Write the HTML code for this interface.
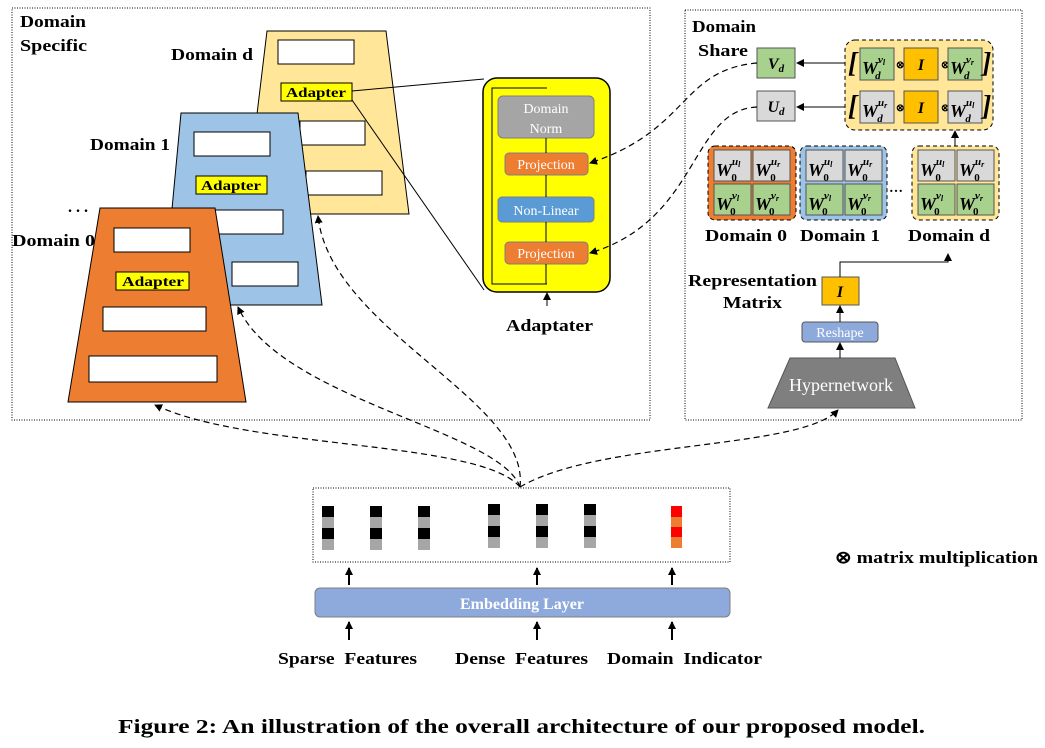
<!DOCTYPE html>
<html><head><meta charset="utf-8"><style>
body{margin:0;background:#fff}
svg text{font-family:"Liberation Serif",serif;font-weight:bold}
</style></head><body>
<svg width="1045" height="743" viewBox="0 0 1045 743" xmlns="http://www.w3.org/2000/svg">
<defs>
<marker id="ah" markerWidth="8" markerHeight="8" refX="7" refY="4" orient="auto" markerUnits="userSpaceOnUse"><path d="M0,0 L8,4 L0,8 Z" fill="#000"/></marker>
</defs>
<rect x="12" y="8" width="638" height="412" fill="none" stroke="#000" stroke-dasharray="1,1.5"/>
<rect x="685" y="10" width="337" height="410" fill="none" stroke="#000" stroke-dasharray="1,1.5"/>
<text x="20" y="27" font-size="17" textLength="66" lengthAdjust="spacingAndGlyphs">Domain</text>
<text x="20" y="51" font-size="17" textLength="67" lengthAdjust="spacingAndGlyphs">Specific</text>
<text x="171" y="60" font-size="17" textLength="82" lengthAdjust="spacingAndGlyphs">Domain d</text>
<text x="90" y="150" font-size="17" textLength="80" lengthAdjust="spacingAndGlyphs">Domain 1</text>
<text x="68" y="212" font-size="16">. . .</text>
<text x="12" y="246" font-size="17" textLength="83" lengthAdjust="spacingAndGlyphs">Domain 0</text>
<!-- domain d -->
<polygon points="267,31 386,31 409,214 245,214" fill="#FFE699" stroke="#000"/>
<rect x="278" y="40" width="76" height="24" fill="#fff" stroke="#000"/>
<rect x="281" y="83" width="71" height="18" fill="#FFFF00" stroke="#000"/>
<text x="316" y="97" font-size="14" text-anchor="middle" textLength="60" lengthAdjust="spacingAndGlyphs">Adapter</text>
<rect x="300" y="121" width="65" height="24" fill="#fff" stroke="#000"/>
<rect x="306" y="171" width="76" height="24" fill="#fff" stroke="#000"/>
<!-- domain 1 -->
<polygon points="181,113 298,113 322,305 163,305" fill="#9DC3E6" stroke="#000"/>
<rect x="194" y="132" width="76" height="24" fill="#fff" stroke="#000"/>
<rect x="196" y="176" width="71" height="18" fill="#FFFF00" stroke="#000"/>
<text x="231" y="190" font-size="14" text-anchor="middle" textLength="60" lengthAdjust="spacingAndGlyphs">Adapter</text>
<rect x="210" y="210" width="73" height="24" fill="#fff" stroke="#000"/>
<rect x="232" y="262" width="66" height="24" fill="#fff" stroke="#000"/>
<!-- domain 0 -->
<polygon points="100,208 215,208 246,402 68,402" fill="#ED7D31" stroke="#000"/>
<rect x="114" y="228" width="76" height="24" fill="#fff" stroke="#000"/>
<rect x="116" y="272" width="73" height="18" fill="#FFFF00" stroke="#000"/>
<text x="153" y="286" font-size="14" text-anchor="middle" textLength="62" lengthAdjust="spacingAndGlyphs">Adapter</text>
<rect x="103" y="307" width="103" height="24" fill="#fff" stroke="#000"/>
<rect x="89" y="356" width="128" height="26" fill="#fff" stroke="#000"/>
<!-- adapter lines -->
<line x1="352" y1="91" x2="484" y2="79" stroke="#000"/>
<line x1="352" y1="100" x2="484" y2="290" stroke="#000"/>
<rect x="483" y="78" width="127" height="214" rx="14" fill="#FFFF00" stroke="#000" stroke-width="1.5"/>
<polyline points="547,284 492,284 492,88 547,88" fill="none" stroke="#000"/>
<rect x="498" y="96" width="96" height="42" rx="5" fill="#A5A5A5" stroke="#7F7F7F"/>
<text x="546" y="113" font-size="14" fill="#fff" text-anchor="middle" style="font-weight:normal">Domain</text>
<text x="546" y="133" font-size="14" fill="#fff" text-anchor="middle" style="font-weight:normal">Norm</text>
<rect x="505" y="153" width="83" height="22" rx="4" fill="#ED7D31" stroke="#7F7F7F"/>
<text x="546" y="169" font-size="14" fill="#fff" text-anchor="middle" style="font-weight:normal">Projection</text>
<rect x="498" y="197" width="96" height="25" rx="4" fill="#5B9BD5" stroke="#7F7F7F"/>
<text x="546" y="215" font-size="14" fill="#fff" text-anchor="middle" style="font-weight:normal">Non-Linear</text>
<rect x="505" y="242" width="83" height="22" rx="4" fill="#ED7D31" stroke="#7F7F7F"/>
<text x="546" y="258" font-size="14" fill="#fff" text-anchor="middle" style="font-weight:normal">Projection</text>
<line x1="546" y1="138" x2="546" y2="153" stroke="#000"/>
<line x1="546" y1="175" x2="546" y2="197" stroke="#000"/>
<line x1="546" y1="222" x2="546" y2="242" stroke="#000"/>
<line x1="546" y1="264" x2="546" y2="284" stroke="#000"/>
<line x1="547" y1="306" x2="547" y2="293" stroke="#000" marker-end="url(#ah)"/>
<text x="506" y="331" font-size="17" textLength="87" lengthAdjust="spacingAndGlyphs">Adaptater</text>
<!-- right panel -->
<text x="692" y="32" font-size="17" textLength="64" lengthAdjust="spacingAndGlyphs">Domain</text>
<text x="698" y="56" font-size="17" textLength="50" lengthAdjust="spacingAndGlyphs">Share</text>
<rect x="757" y="48" width="38" height="30" fill="#A9D18E" stroke="#555"/>
<text x="776" y="69" font-size="16" font-style="italic" text-anchor="middle">V<tspan font-size="11" dy="3">d</tspan></text>
<rect x="757" y="91" width="38" height="30" fill="#D9D9D9" stroke="#555"/>
<text x="776" y="112" font-size="16" font-style="italic" text-anchor="middle">U<tspan font-size="11" dy="3">d</tspan></text>
<rect x="845" y="40" width="148" height="90" rx="10" fill="#FFE699" stroke="#000" stroke-dasharray="4,3"/>
<line x1="845" y1="63" x2="797" y2="63" stroke="#000" marker-end="url(#ah)"/>
<line x1="845" y1="107" x2="797" y2="107" stroke="#000" marker-end="url(#ah)"/>
<g font-style="italic">
<text x="848" y="72" font-size="28">[</text>
<rect x="860" y="48" width="34" height="32" fill="#A9D18E" stroke="#555"/>
<text x="862" y="74" font-size="18">W<tspan font-size="11" dy="-11">v</tspan><tspan font-size="8" dy="2">l</tspan><tspan font-size="11" dx="-10" dy="14">d</tspan></text>
<text x="896" y="68" font-size="10" style="font-style:normal">⊗</text>
<rect x="904" y="48" width="34" height="32" fill="#FFC000" stroke="#555"/>
<text x="921" y="70" font-size="16" text-anchor="middle">I</text>
<text x="941" y="68" font-size="10" style="font-style:normal">⊗</text>
<rect x="948" y="48" width="34" height="32" fill="#A9D18E" stroke="#555"/>
<text x="950" y="74" font-size="18">W<tspan font-size="11" dy="-11">v</tspan><tspan font-size="8" dy="2">r</tspan><tspan font-size="11" dx="-10" dy="14">d</tspan></text>
<text x="982" y="72" font-size="28">]</text>
<text x="848" y="115" font-size="28">[</text>
<rect x="860" y="91" width="34" height="32" fill="#D9D9D9" stroke="#555"/>
<text x="862" y="117" font-size="18">W<tspan font-size="11" dy="-11">u</tspan><tspan font-size="8" dy="2">r</tspan><tspan font-size="11" dx="-10" dy="14">d</tspan></text>
<text x="896" y="111" font-size="10" style="font-style:normal">⊗</text>
<rect x="904" y="91" width="34" height="32" fill="#FFC000" stroke="#555"/>
<text x="921" y="113" font-size="16" text-anchor="middle">I</text>
<text x="941" y="111" font-size="10" style="font-style:normal">⊗</text>
<rect x="948" y="91" width="34" height="32" fill="#D9D9D9" stroke="#555"/>
<text x="950" y="117" font-size="18">W<tspan font-size="11" dy="-11">u</tspan><tspan font-size="8" dy="2">l</tspan><tspan font-size="11" dx="-9" dy="14">d</tspan></text>
<text x="982" y="115" font-size="28">]</text>
</g>
<line x1="955" y1="146" x2="955" y2="131" stroke="#000" marker-end="url(#ah)"/>
<rect x="708" y="146" width="88" height="74" rx="7" fill="#ED7D31" stroke="#000" stroke-dasharray="4,3"/>
<rect x="800" y="146" width="87" height="74" rx="7" fill="#9DC3E6" stroke="#000" stroke-dasharray="4,3"/>
<rect x="912" y="146" width="87" height="74" rx="7" fill="#FFE699" stroke="#000" stroke-dasharray="4,3"/>
<text x="889" y="192" font-size="14">…</text>
<g font-style="italic" font-size="18">
<rect x="714" y="150" width="37" height="31" fill="#D9D9D9" stroke="#555"/><text x="716" y="176">W<tspan font-size="11" dy="-11">u</tspan><tspan font-size="8" dy="2">l</tspan><tspan font-size="11" dx="-9" dy="14" style="font-style:normal">0</tspan></text>
<rect x="753" y="150" width="37" height="31" fill="#D9D9D9" stroke="#555"/><text x="755" y="176">W<tspan font-size="11" dy="-11">u</tspan><tspan font-size="8" dy="2">r</tspan><tspan font-size="11" dx="-10" dy="14" style="font-style:normal">0</tspan></text>
<rect x="714" y="184" width="37" height="31" fill="#A9D18E" stroke="#555"/><text x="716" y="210">W<tspan font-size="11" dy="-11">v</tspan><tspan font-size="8" dy="2">l</tspan><tspan font-size="11" dx="-9" dy="14" style="font-style:normal">0</tspan></text>
<rect x="753" y="184" width="37" height="31" fill="#A9D18E" stroke="#555"/><text x="755" y="210">W<tspan font-size="11" dy="-11">v</tspan><tspan font-size="8" dy="2">r</tspan><tspan font-size="11" dx="-10" dy="14" style="font-style:normal">0</tspan></text>
<rect x="806" y="150" width="37" height="31" fill="#D9D9D9" stroke="#555"/><text x="808" y="176">W<tspan font-size="11" dy="-11">u</tspan><tspan font-size="8" dy="2">l</tspan><tspan font-size="11" dx="-9" dy="14" style="font-style:normal">0</tspan></text>
<rect x="845" y="150" width="37" height="31" fill="#D9D9D9" stroke="#555"/><text x="847" y="176">W<tspan font-size="11" dy="-11">u</tspan><tspan font-size="8" dy="2">r</tspan><tspan font-size="11" dx="-10" dy="14" style="font-style:normal">0</tspan></text>
<rect x="806" y="184" width="37" height="31" fill="#A9D18E" stroke="#555"/><text x="808" y="210">W<tspan font-size="11" dy="-11">v</tspan><tspan font-size="8" dy="2">l</tspan><tspan font-size="11" dx="-9" dy="14" style="font-style:normal">0</tspan></text>
<rect x="845" y="184" width="37" height="31" fill="#A9D18E" stroke="#555"/><text x="847" y="210">W<tspan font-size="11" dy="-11">v</tspan><tspan font-size="8" dy="2">r</tspan><tspan font-size="11" dx="-10" dy="14" style="font-style:normal">0</tspan></text>
<rect x="918" y="150" width="37" height="31" fill="#D9D9D9" stroke="#555"/><text x="920" y="176">W<tspan font-size="11" dy="-11">u</tspan><tspan font-size="8" dy="2">l</tspan><tspan font-size="11" dx="-9" dy="14" style="font-style:normal">0</tspan></text>
<rect x="957" y="150" width="37" height="31" fill="#D9D9D9" stroke="#555"/><text x="959" y="176">W<tspan font-size="11" dy="-11">u</tspan><tspan font-size="8" dy="2">r</tspan><tspan font-size="11" dx="-10" dy="14" style="font-style:normal">0</tspan></text>
<rect x="918" y="184" width="37" height="31" fill="#A9D18E" stroke="#555"/><text x="920" y="210">W<tspan font-size="11" dy="-11">v</tspan><tspan font-size="8" dy="2">l</tspan><tspan font-size="11" dx="-9" dy="14" style="font-style:normal">0</tspan></text>
<rect x="957" y="184" width="37" height="31" fill="#A9D18E" stroke="#555"/><text x="959" y="210">W<tspan font-size="11" dy="-11">v</tspan><tspan font-size="8" dy="2">r</tspan><tspan font-size="11" dx="-10" dy="14" style="font-style:normal">0</tspan></text>
</g>
<text x="705" y="241" font-size="17" textLength="82" lengthAdjust="spacingAndGlyphs">Domain 0</text>
<text x="800" y="241" font-size="17" textLength="80" lengthAdjust="spacingAndGlyphs">Domain 1</text>
<text x="908" y="241" font-size="17" textLength="82" lengthAdjust="spacingAndGlyphs">Domain d</text>
<text x="688" y="286" font-size="17" textLength="129" lengthAdjust="spacingAndGlyphs">Representation</text>
<text x="723" y="308" font-size="17" textLength="59" lengthAdjust="spacingAndGlyphs">Matrix</text>
<rect x="822" y="277" width="37" height="28" fill="#FFC000" stroke="#555"/>
<text x="840" y="297" font-size="16" font-style="italic" text-anchor="middle">I</text>
<polyline points="840,277 840,262 948,262 948,258" fill="none" stroke="#000"/>
<line x1="948" y1="262" x2="948" y2="254" stroke="#000" marker-end="url(#ah)"/>
<rect x="802" y="322" width="76" height="20" rx="3" fill="#8EA9DB" stroke="#555"/>
<text x="840" y="337" font-size="14" fill="#fff" text-anchor="middle" style="font-weight:normal">Reshape</text>
<line x1="840" y1="322" x2="840" y2="306" stroke="#000" marker-end="url(#ah)"/>
<polygon points="790,358 895,358 915,408 768,408" fill="#7F7F7F" stroke="#555"/>
<text x="841" y="391" font-size="18" fill="#fff" text-anchor="middle" style="font-weight:normal">Hypernetwork</text>
<line x1="840" y1="358" x2="840" y2="343" stroke="#000" marker-end="url(#ah)"/>
<g fill="none" stroke="#000" stroke-dasharray="6,4" stroke-width="1.2">
<path d="M757,63 C680,70 690,130 590,163" marker-end="url(#ah)"/>
<path d="M757,107 C690,110 700,220 590,253" marker-end="url(#ah)"/>
<path d="M520,487 C480,440 250,450 155,405" marker-end="url(#ah)"/>
<path d="M520,487 C500,430 280,400 238,307" marker-end="url(#ah)"/>
<path d="M520,487 C530,400 330,330 318,216" marker-end="url(#ah)"/>
<path d="M520,487 C600,440 800,450 838,410" marker-end="url(#ah)"/>
</g>
<rect x="313" y="488" width="417" height="74" fill="none" stroke="#000" stroke-dasharray="1,1.5"/>
<g>
<rect x="322" y="506" width="12" height="11" fill="#000"/><rect x="322" y="517" width="12" height="11" fill="#A6A6A6"/><rect x="322" y="528" width="12" height="11" fill="#000"/><rect x="322" y="539" width="12" height="11" fill="#A6A6A6"/>
<rect x="370" y="506" width="12" height="11" fill="#000"/><rect x="370" y="517" width="12" height="11" fill="#A6A6A6"/><rect x="370" y="528" width="12" height="11" fill="#000"/><rect x="370" y="539" width="12" height="11" fill="#A6A6A6"/>
<rect x="418" y="506" width="12" height="11" fill="#000"/><rect x="418" y="517" width="12" height="11" fill="#A6A6A6"/><rect x="418" y="528" width="12" height="11" fill="#000"/><rect x="418" y="539" width="12" height="11" fill="#A6A6A6"/>
<rect x="488" y="504" width="12" height="11" fill="#000"/><rect x="488" y="515" width="12" height="11" fill="#A6A6A6"/><rect x="488" y="526" width="12" height="11" fill="#000"/><rect x="488" y="537" width="12" height="11" fill="#A6A6A6"/>
<rect x="536" y="504" width="12" height="11" fill="#000"/><rect x="536" y="515" width="12" height="11" fill="#A6A6A6"/><rect x="536" y="526" width="12" height="11" fill="#000"/><rect x="536" y="537" width="12" height="11" fill="#A6A6A6"/>
<rect x="584" y="504" width="12" height="11" fill="#000"/><rect x="584" y="515" width="12" height="11" fill="#A6A6A6"/><rect x="584" y="526" width="12" height="11" fill="#000"/><rect x="584" y="537" width="12" height="11" fill="#A6A6A6"/>
<rect x="671" y="506" width="11" height="11" fill="#FF0000"/><rect x="671" y="517" width="11" height="10" fill="#ED7D31"/><rect x="671" y="527" width="11" height="10" fill="#FF0000"/><rect x="671" y="537" width="11" height="11" fill="#ED7D31"/>
</g>
<text x="835" y="563" font-size="17" textLength="203" lengthAdjust="spacingAndGlyphs">⊗ matrix multiplication</text>
<rect x="315" y="588" width="415" height="29" rx="5" fill="#8EA9DB" stroke="#7F7F7F"/>
<text x="522" y="609" font-size="16" fill="#fff" text-anchor="middle">Embedding Layer</text>
<g stroke="#000" stroke-width="2">
<line x1="349" y1="585" x2="349" y2="568" marker-end="url(#ah)"/>
<line x1="537" y1="585" x2="537" y2="568" marker-end="url(#ah)"/>
<line x1="672" y1="585" x2="672" y2="568" marker-end="url(#ah)"/>
<line x1="349" y1="640" x2="349" y2="622" marker-end="url(#ah)"/>
<line x1="537" y1="640" x2="537" y2="622" marker-end="url(#ah)"/>
<line x1="672" y1="640" x2="672" y2="622" marker-end="url(#ah)"/>
</g>
<text x="278" y="664" font-size="17" textLength="139" lengthAdjust="spacingAndGlyphs" xml:space="preserve">Sparse  Features</text>
<text x="455" y="664" font-size="17" textLength="133" lengthAdjust="spacingAndGlyphs" xml:space="preserve">Dense  Features</text>
<text x="607" y="664" font-size="17" textLength="155" lengthAdjust="spacingAndGlyphs" xml:space="preserve">Domain  Indicator</text>
<text x="118" y="733" font-size="20" textLength="807" lengthAdjust="spacingAndGlyphs">Figure 2: An illustration of the overall architecture of our proposed model.</text>
</svg>
</body></html>
